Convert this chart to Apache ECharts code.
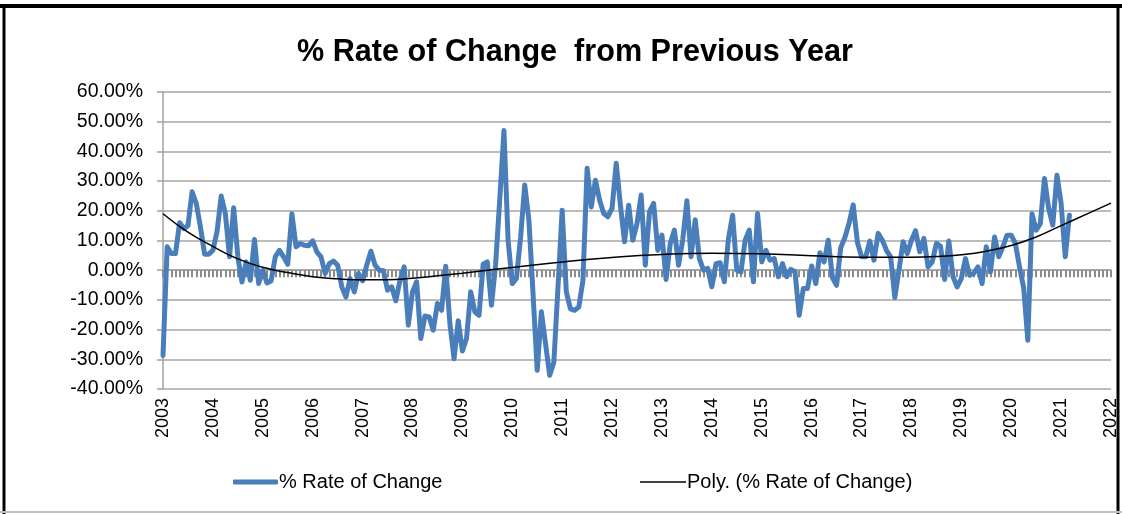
<!DOCTYPE html>
<html>
<head>
<meta charset="utf-8">
<script src="https://cdn.jsdelivr.net/npm/echarts@6/dist/echarts.min.js"></script>
<style>
  html, body { margin: 0; padding: 0; background: #fff; }
  #chart { width: 1122px; height: 514px; }
</style>
</head>
<body>
<div id="chart"></div>
<script>
// ---- data ----
const startYear = 2003;
const yearTicks = [2003, 2004, 2005, 2006, 2007, 2008, 2009, 2010, 2011, 2012, 2013, 2014, 2015, 2016, 2017, 2018, 2019, 2020, 2021, 2022];
const seriesName = '% Rate of Change';
const trendName = 'Poly. (% Rate of Change)';
// monthly % change, Jan 2003 .. Mar 2021
const rateOfChange = [
  -28.7, 7.9, 5.6, 5.6, 16.0, 14.0, 15.0, 26.4, 22.5, 14.6, 5.4, 5.4,
  6.7, 13.0, 25.0, 19.0, 4.5, 21.0, 4.5, -4.0, 2.8, -3.4, 10.3, -4.5,
  0.0, -4.3, -3.6, 4.5, 6.7, 4.5, 2.0, 19.0, 7.9, 9.0, 8.4, 8.2,
  9.9, 6.2, 4.5, -1.1, 2.2, 3.1, 1.7, -5.6, -9.0, -2.8, -7.3, -1.1,
  -3.6, 1.7, 6.4, 1.7, 0.0, -0.2, -6.7, -5.6, -10.3, -3.4, 1.1, -18.5,
  -7.3, -3.9, -23.0, -15.4, -15.7, -20.2, -11.2, -13.5, 1.3, -18.0, -29.8, -17.0,
  -27.2, -23.0, -7.3, -14.0, -15.2, 2.0, 2.8, -11.8, 2.0, 24.0, 47.0, 10.0,
  -4.5, -2.8, 11.0, 28.7, 16.9, -8.0, -33.7, -14.0, -24.7, -35.4, -31.0, -5.6,
  20.2, -7.3, -13.0, -13.5, -12.4, -3.4, 34.3, 21.3, 30.3, 23.6, 19.1, 18.0,
  20.8, 36.0, 22.0, 9.6, 21.9, 10.1, 15.7, 25.3, 1.7, 19.7, 22.5, 6.7,
  11.8, -3.1, 9.0, 13.5, 1.7, 10.3, 23.4, 4.5, 17.0, 3.9, 0.0, 0.6,
  -5.6, 2.2, 2.5, -3.9, 10.7, 18.5, 0.0, -0.6, 10.1, 13.5, -3.9, 19.1,
  2.8, 6.7, 3.4, 3.9, -2.2, 2.2, -2.2, 0.3, -0.5, -15.2, -6.2, -6.2,
  1.4, -4.5, 5.9, 2.8, 10.1, -2.5, -5.1, 7.6, 11.0, 15.8, 22.0, 9.5,
  4.5, 4.5, 9.8, 3.4, 12.4, 10.1, 6.7, 4.5, -9.2, 0.0, 9.6, 5.6,
  10.1, 13.3, 6.2, 10.7, 1.1, 2.8, 9.0, 8.1, -3.1, 9.8, -2.2, -5.6,
  -2.8, 3.9, -1.7, -1.1, 1.1, -4.5, 7.9, -0.6, 11.2, 4.5, 7.9, 11.8,
  11.8, 9.0, 1.1, -6.0, -23.6, 19.0, 13.5, 15.7, 30.9, 20.8, 15.2, 32.0,
  22.5, 4.5, 18.5
];
// polynomial trendline
const trendYears  = [2003, 2003.5, 2004, 2004.5, 2005, 2005.5, 2006, 2006.5, 2007, 2007.5, 2008, 2008.5, 2009, 2009.5, 2010, 2011, 2012, 2013, 2014, 2015, 2016, 2017, 2018, 2018.5, 2019, 2019.5, 2020, 2020.5, 2021, 2021.5, 2022];
const trendValues = [19.0, 12.8, 8.0, 3.8, 1.0, -0.8, -2.2, -2.9, -3.2, -3.2, -2.7, -1.9, -1.0, 0.0, 0.9, 2.8, 4.3, 5.3, 5.7, 5.5, 4.9, 4.4, 4.4, 4.6, 5.2, 6.4, 8.3, 11.2, 15.0, 18.8, 22.6];
const yTicks = [-40, -30, -20, -10, 0, 10, 20, 30, 40, 50, 60];

// ---- chart ----
const FONT = '"Liberation Sans", Arial, sans-serif';
const chart = echarts.init(document.getElementById('chart'), null, { renderer: 'canvas' });
const lineData = rateOfChange.map((v, i) => [startYear + i / 12, v]);
const trendData = trendYears.map((y, i) => [y, trendValues[i]]);
const xMin = yearTicks[0], xMax = yearTicks[yearTicks.length - 1];

chart.setOption({
  animation: false,
  backgroundColor: '#ffffff',
  title: {
    text: '% Rate of Change  from Previous Year',
    left: 570, top: 32, textAlign: 'center',
    textStyle: { fontFamily: FONT, fontWeight: 'bold', fontSize: 30.6, color: '#000' }
  },
  graphic: [
    { type: 'line', shape: { x1: 0, y1: 6, x2: 1122, y2: 6 }, style: { stroke: '#000', lineWidth: 4 } },
    { type: 'line', shape: { x1: 4, y1: 4, x2: 4, y2: 514 }, style: { stroke: '#000', lineWidth: 3 } },
    { type: 'line', shape: { x1: 1118, y1: 4, x2: 1118, y2: 514 }, style: { stroke: '#000', lineWidth: 3 } },
    { type: 'line', shape: { x1: 0, y1: 512, x2: 1122, y2: 512 }, style: { stroke: '#c0c0c0', lineWidth: 2 } }
  ],
  legend: [
    {
      data: [seriesName], left: 228, top: 467, icon: 'roundRect',
      itemWidth: 45, itemHeight: 5, itemGap: 0,
      textStyle: { fontFamily: FONT, fontSize: 20, color: '#000', padding: [0, 0, 0, -4] }
    },
    {
      data: [trendName], left: 635, top: 467, icon: 'rect',
      itemWidth: 46, itemHeight: 1.5, itemGap: 0,
      textStyle: { fontFamily: FONT, fontSize: 20, color: '#000', padding: [0, 0, 0, -4] }
    }
  ],
  grid: { left: 163, right: 11, top: 92, bottom: 125, containLabel: false },
  xAxis: [
    {
      type: 'value', min: xMin, max: xMax, interval: 1,
      axisLine: { show: false, onZero: false },
      axisTick: { show: false },
      splitLine: { show: false },
      axisLabel: {
        rotate: 90, margin: 9, fontFamily: FONT, fontSize: 18, color: '#000',
        formatter: v => String(Math.round(v))
      }
    },
    {
      type: 'value', min: xMin, max: xMax, interval: 1,
      axisLine: { show: true, onZero: true, lineStyle: { color: '#a0a0a0', width: 1.5 } },
      axisTick: { show: true, inside: true, length: 7, lineStyle: { color: '#8c8c8c', width: 2 } },
      minorTick: { show: true, splitNumber: 12, length: 7, lineStyle: { color: '#8c8c8c', width: 2 } },
      splitLine: { show: false },
      axisLabel: { show: false }
    }
  ],
  yAxis: {
    type: 'value', min: yTicks[0], max: yTicks[yTicks.length - 1], interval: 10,
    axisLine: { show: true, lineStyle: { color: '#a0a0a0', width: 1.5 } },
    axisTick: { show: true, length: 6, lineStyle: { color: '#a0a0a0', width: 1.5 } },
    splitLine: { show: true, lineStyle: { color: '#a6a6a6', width: 1.5 } },
    axisLabel: {
      margin: 20, fontFamily: FONT, fontSize: 19.5, color: '#000',
      formatter: v => v.toFixed(2) + '%'
    }
  },
  series: [
    {
      name: seriesName, type: 'line', xAxisIndex: 0, data: lineData,
      showSymbol: false, symbol: 'none',
      lineStyle: { color: '#4a7ebb', width: 5, join: 'round', cap: 'round' },
      itemStyle: { color: '#4a7ebb' }, z: 3
    },
    {
      name: trendName, type: 'line', xAxisIndex: 0, data: trendData,
      showSymbol: false, symbol: 'none', smooth: true,
      lineStyle: { color: '#000', width: 1.5 },
      itemStyle: { color: '#000' }, z: 4
    }
  ]
});
</script>
</body>
</html>
